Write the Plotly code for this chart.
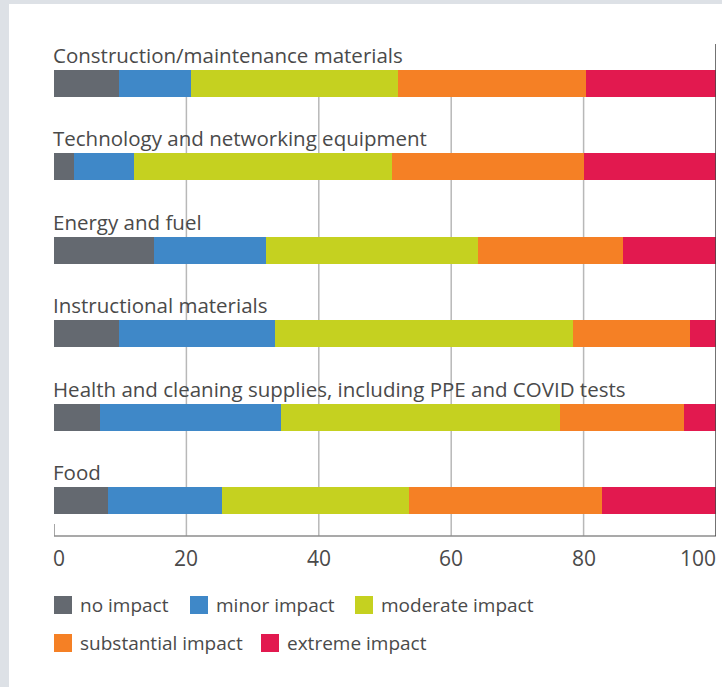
import plotly.graph_objects as go

categories = [
    "Construction/maintenance materials",
    "Technology and networking equipment",
    "Energy and fuel",
    "Instructional materials",
    "Health and cleaning supplies, including PPE and COVID tests",
    "Food",
]
series_names = ["no impact", "minor impact", "moderate impact", "substantial impact", "extreme impact"]
no_impact = [9.8, 3.0, 15.1, 9.8, 6.9, 8.2]
minor_impact = [10.9, 9.1, 16.9, 23.6, 27.4, 17.2]
moderate_impact = [31.3, 39.0, 32.0, 45.0, 42.1, 28.2]
substantial_impact = [28.4, 28.9, 22.0, 17.7, 18.8, 29.2]
extreme_impact = [19.6, 20.0, 14.0, 3.9, 4.8, 17.2]
tick_vals = [0, 20, 40, 60, 80, 100]
tick_text = ["0", "20", "40", "60", "80", "100"]

series_values = [no_impact, minor_impact, moderate_impact, substantial_impact, extreme_impact]
colors = ["#646970", "#3f88c8", "#c5d120", "#f58025", "#e2194f"]

W, H = 722, 687
L, R, T, B = 54, 716, 44, 536
FONT = "Open Sans"
TXT = "#4a4a4a"
BAR_W = 0.324
Y_RANGE = [5.426, -0.474]


def px2x(px):
    return (px - L) / (R - L)


def py2y(py):
    return (B - py) / (B - T)


fig = go.Figure()
ypos = list(range(len(categories)))
for name, vals, col in zip(series_names, series_values, colors):
    fig.add_trace(go.Bar(
        y=ypos, x=vals, orientation="h", name=name,
        marker=dict(color=col, line=dict(width=0)),
        width=BAR_W, showlegend=False, hoverinfo="x+name",
    ))

shapes = []
# white panel
shapes.append(dict(type="rect", xref="paper", yref="paper",
                   x0=px2x(9), x1=px2x(W + 5), y0=py2y(4), y1=py2y(H + 5),
                   fillcolor="white", line=dict(width=0), layer="below"))
# gridlines
for tv in tick_vals[1:-1]:
    shapes.append(dict(type="line", xref="x", yref="y", x0=tv, x1=tv,
                       y0=-BAR_W / 2, y1=Y_RANGE[0],
                       line=dict(color="#b8b8b8", width=1.5), layer="below"))
# zero tick
shapes.append(dict(type="line", xref="x", yref="paper", x0=0, x1=0,
                   y0=0, y1=py2y(524), line=dict(color="#888888", width=1.5)))
# bottom axis line
shapes.append(dict(type="line", xref="x", yref="paper", x0=0, x1=100,
                   y0=0, y1=0, line=dict(color="#8c8c8c", width=1.5)))
# right line
shapes.append(dict(type="line", xref="x", yref="paper", x0=100, x1=100,
                   y0=0, y1=1, line=dict(color="#444444", width=1.5)))

annotations = []
# category labels
for i, cat in enumerate(categories):
    annotations.append(dict(x=0, y=i - BAR_W / 2, xref="x", yref="y",
                            text=cat, showarrow=False, xanchor="left", yanchor="bottom",
                            font=dict(family=FONT, size=20.5, color=TXT),
                            xshift=-3, yshift=-1))
# tick labels
for j, (tv, tt) in enumerate(zip(tick_vals, tick_text)):
    if j == 0:
        anchor, xs = "left", -3
    elif j == len(tick_vals) - 1:
        anchor, xs = "right", 2
    else:
        anchor, xs = "center", 0
    annotations.append(dict(x=tv, y=py2y(558), xref="x", yref="paper", text=tt,
                            showarrow=False, xanchor=anchor, yanchor="middle", xshift=xs,
                            font=dict(family=FONT, size=21, color=TXT)))
# legend
legend_pos = [(54, 605), (190, 605), (355, 605), (54, 643), (261, 643)]
for (lx, ly), name, col in zip(legend_pos, series_names, colors):
    shapes.append(dict(type="rect", xref="paper", yref="paper",
                       x0=px2x(lx), x1=px2x(lx + 18), y0=py2y(ly - 9), y1=py2y(ly + 9),
                       fillcolor=col, line=dict(width=0)))
    annotations.append(dict(x=px2x(lx + 24), y=py2y(ly), xref="paper", yref="paper",
                            text=name, showarrow=False, xanchor="left", yanchor="middle",
                            font=dict(family=FONT, size=19, color=TXT)))

fig.update_layout(
    width=W, height=H,
    margin=dict(l=L, r=W - R, t=T, b=H - B, pad=0),
    paper_bgcolor="#dde1e6", plot_bgcolor="rgba(0,0,0,0)",
    barmode="stack", bargap=0,
    xaxis=dict(range=[0, 100], showgrid=False, zeroline=False, showline=False,
               showticklabels=False, ticks="", fixedrange=True),
    yaxis=dict(range=Y_RANGE, showgrid=False, zeroline=False, showline=False,
               showticklabels=False, ticks="", fixedrange=True),
    shapes=shapes, annotations=annotations,
    font=dict(family=FONT, color=TXT),
)

fig.write_html("out.html")
